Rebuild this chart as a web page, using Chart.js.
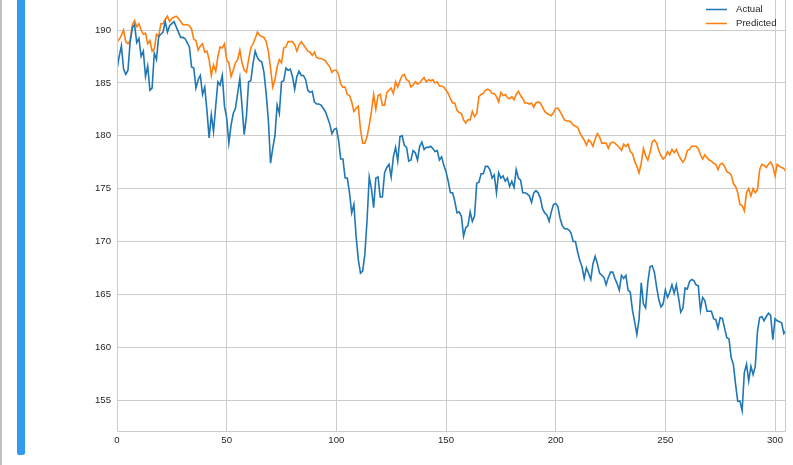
<!DOCTYPE html>
<html>
<head>
<meta charset="utf-8">
<script src="https://cdn.jsdelivr.net/npm/chart.js@4"></script>
<style>
  html, body { margin: 0; padding: 0; background: #fff; }
  body { width: 793px; height: 465px; position: relative; overflow: hidden; }
  #barraGris { position: absolute; left: 0; top: 0; width: 2px; height: 465px; background: #c0c0c0; }
  #barraAzul { position: absolute; left: 17px; top: 0; width: 8px; height: 455px; background: #329af0; border-radius: 0 0 2px 2px; }
  #lienzo { position: absolute; left: 0; top: 0; }
</style>
</head>
<body>
<div id="barraGris"></div>
<div id="barraAzul"></div>
<canvas id="lienzo" width="793" height="465"></canvas>
<script>
// valores (indice 0..305)
const actual = [
  186.3, 187.5, 188.5, 186.3, 185.8, 186.2, 188.9, 190.2, 190.5, 188.8,
  189.2, 187.5, 188.0, 185.6, 186.6, 184.3, 184.5, 187.8, 187.2, 189.4,
  189.6, 189.8, 190.8, 189.8, 190.4, 190.6, 190.8, 190.3, 189.8, 189.3,
  189.3, 189.2, 188.8, 188.4, 186.5, 186.4, 184.5, 185.3, 185.7, 183.9,
  184.6, 182.4, 179.8, 182.0, 180.4, 182.8, 185.1, 184.8, 185.7, 182.8,
  181.7, 179.3, 181.0, 182.1, 182.6, 184.0, 185.4, 182.8, 180.1, 181.8,
  185.1, 185.2, 186.8, 188.0, 187.4, 187.1, 187.0, 186.0, 184.0, 181.5,
  177.4, 178.8, 180.0, 182.9, 182.1, 185.1, 185.2, 186.4, 186.2, 186.3,
  185.6, 184.4, 185.6, 186.1, 185.7, 185.7, 185.3, 184.3, 184.1, 184.2,
  183.2, 183.0, 183.0, 182.9, 182.6, 182.3, 181.7, 181.1, 180.2, 180.6,
  180.7, 179.6, 177.8, 177.8, 176.0, 176.0, 174.6, 172.7, 173.5, 170.5,
  168.3, 167.0, 167.2, 168.8, 172.0, 176.1, 175.0, 173.2, 176.0, 176.1,
  174.2, 174.2, 176.5, 177.0, 177.3, 176.1, 178.0, 178.9, 177.6, 179.9,
  180.0, 179.1, 178.9, 177.6, 177.7, 178.6, 178.4, 177.7, 179.0, 179.4,
  178.7, 178.9, 178.9, 179.0, 178.8, 178.5, 178.6, 177.7, 178.0, 177.2,
  176.6, 175.7, 174.6, 174.6, 173.8, 172.7, 172.8, 172.4, 170.5, 171.3,
  171.5, 172.8, 171.9, 172.4, 175.5, 175.6, 176.4, 176.4, 177.1, 177.1,
  176.8, 176.0, 176.3, 174.6, 176.5, 176.0, 176.2, 175.7, 176.0, 175.2,
  175.7, 175.1, 176.8, 176.0, 175.8, 174.6, 174.6, 174.5, 174.3, 173.7,
  174.6, 174.8, 174.6, 174.1, 173.1, 172.7, 172.5, 171.9, 172.8, 173.5,
  173.6, 173.3, 172.2, 171.5, 171.2, 171.2, 171.1, 170.8, 170.0, 170.0,
  169.0, 168.2, 167.6, 166.5, 167.5, 167.0, 166.4, 167.9, 168.6, 167.9,
  167.0, 166.8, 166.6, 165.9, 166.6, 167.1, 167.1, 166.5, 166.0, 165.4,
  166.8, 166.5, 166.8, 165.4, 165.2, 163.5, 162.4, 161.2, 162.6, 166.1,
  164.1, 163.7, 166.1, 167.6, 167.7, 167.1, 165.7, 164.5, 163.8, 164.1,
  165.4, 164.7, 165.2, 165.9, 165.1, 165.9, 164.7, 163.3, 163.7, 165.6,
  165.5, 166.2, 166.4, 166.3, 165.9, 165.8, 163.5, 164.7, 164.4, 163.4,
  163.4, 163.4, 162.7, 162.6, 161.8, 162.8, 162.7, 161.8, 160.9, 160.8,
  159.0, 158.4, 156.5, 154.9, 154.9, 154.0, 157.6, 158.4, 156.8, 158.2,
  157.4, 158.2, 161.5, 162.8, 162.9, 162.5, 162.9, 163.2, 163.0, 160.7,
  162.7, 162.5, 162.4, 162.3, 161.3, 161.6
];

const predicted = [
  188.9, 189.1, 189.5, 190.0, 188.9, 188.7, 189.0, 190.5, 190.9, 190.3,
  190.6, 190.0, 189.6, 189.7, 188.7, 189.0, 188.0, 188.2, 189.6, 189.4,
  190.6, 190.6, 191.0, 191.3, 190.8, 191.1, 191.2, 191.3, 191.1, 190.8,
  190.5, 190.5, 190.5, 190.4, 190.1, 189.1, 189.0, 188.1, 188.5, 188.7,
  187.9, 188.0, 187.2, 185.7, 186.7, 186.1, 187.5, 188.4, 188.3, 188.7,
  187.2, 186.9, 185.6, 186.2, 186.9, 187.2, 188.1, 186.9, 186.2, 186.0,
  187.2, 188.3, 188.7, 189.2, 189.8, 189.5, 189.4, 189.3, 188.9, 188.0,
  186.4, 184.6, 185.3, 186.5, 187.2, 186.9, 188.3, 188.4, 188.9, 188.9,
  188.9, 188.6, 188.0, 188.6, 188.9, 188.6, 188.3, 188.0, 187.9, 187.6,
  187.9, 187.4, 187.3, 187.3, 187.2, 187.1, 186.8, 186.5, 186.0, 186.2,
  186.2, 185.8, 184.9, 184.6, 184.6, 183.9, 183.8, 183.2, 182.3, 182.6,
  182.8, 180.6, 179.3, 179.3, 179.9, 181.0, 182.3, 183.9, 182.5, 183.8,
  183.9, 182.9, 182.9, 184.1, 184.3, 184.5, 184.0, 185.1, 184.6, 185.2,
  185.7, 185.8, 185.3, 185.2, 184.6, 184.8, 185.1, 184.9, 185.0, 185.3,
  185.5, 185.1, 185.3, 185.2, 185.3, 185.0, 185.1, 184.7, 184.7, 184.6,
  184.3, 184.0, 183.5, 183.1, 183.1, 182.4, 182.2, 182.1, 181.5, 181.2,
  181.5, 181.5, 182.3, 181.8, 182.1, 183.7, 183.9, 184.0, 184.3, 184.4,
  184.3, 184.0, 184.0, 183.7, 183.2, 184.1, 183.8, 183.9, 183.6, 183.5,
  183.7, 183.4, 183.9, 184.2, 183.8, 183.5, 183.1, 183.1, 183.0, 183.1,
  182.7, 183.1, 183.2, 183.1, 182.7, 182.3, 182.1, 182.0, 181.9, 182.2,
  182.6, 182.6, 182.3, 181.9, 181.5, 181.4, 181.4, 181.3, 181.0, 180.9,
  180.8, 180.3, 179.9, 179.6, 179.1, 179.6, 179.4, 179.0, 179.7, 180.2,
  179.9, 179.3, 179.3, 179.3, 178.8, 179.3, 179.4, 179.3, 179.1, 178.9,
  178.6, 179.2, 179.0, 179.2, 178.5, 178.3, 177.6, 177.1, 176.5, 177.4,
  178.8, 178.1, 177.7, 178.4, 179.4, 179.6, 179.3, 178.6, 178.1, 177.8,
  178.0, 178.5, 178.2, 178.7, 178.4, 178.7, 178.2, 177.8, 177.5, 177.8,
  178.6, 178.7, 179.0, 179.0, 179.0, 178.8, 178.2, 177.8, 178.2, 177.9,
  177.7, 177.6, 177.4, 177.3, 176.8, 177.3, 177.4, 177.1, 176.6, 176.5,
  176.3, 175.5, 175.2, 174.6, 173.5, 173.4, 172.9, 174.6, 175.0, 174.3,
  175.0, 174.6, 174.9, 176.8, 177.3, 177.2, 177.0, 177.3, 177.5, 177.1,
  176.2, 177.3, 177.1, 177.0, 176.9, 176.6
];

const nombresSeries = ['Actual', 'Predicted'];
const coloresSeries = ['#1f77b4', '#ff7f0e'];

const rangoX = [0, 305];
const rangoY = [152.07, 192.84];
const pasoX = 50;
const pasoY = 5;

const colorGrilla = '#cccccc';
const colorTexto = '#262626';
const fuente = "'Liberation Sans', Arial, sans-serif";

const aPuntos = serie => serie.map((v, i) => ({ x: i, y: v }));

// bordes del area (izquierda, abajo, derecha) estilo seaborn whitegrid
const pluginBordes = {
    id: 'bordes',
    afterDatasetsDraw(chart) {
        const { ctx, chartArea: a } = chart;
        ctx.save();
        ctx.strokeStyle = colorGrilla;
        ctx.lineWidth = 1;
        ctx.beginPath();
        ctx.moveTo(a.left + 0.5, a.top);
        ctx.lineTo(a.left + 0.5, a.bottom + 0.5);
        ctx.lineTo(a.right - 0.5, a.bottom + 0.5);
        ctx.lineTo(a.right - 0.5, a.top);
        ctx.stroke();
        ctx.restore();
    }
};

// leyenda vertical arriba a la derecha
const pluginLeyenda = {
    id: 'leyendaDerecha',
    afterDraw(chart) {
        const { ctx } = chart;
        ctx.save();
        ctx.font = '9.6px ' + fuente;
        ctx.textBaseline = 'middle';
        chart.data.datasets.forEach((ds, i) => {
            const y = 9.5 + i * 14;
            ctx.strokeStyle = ds.borderColor;
            ctx.lineWidth = 1.5;
            ctx.beginPath();
            ctx.moveTo(706, y);
            ctx.lineTo(727, y);
            ctx.stroke();
            ctx.fillStyle = colorTexto;
            ctx.fillText(ds.label, 736, y);
        });
        ctx.restore();
    }
};

new Chart(document.getElementById('lienzo'), {
    type: 'line',
    data: {
        datasets: [actual, predicted].map((serie, i) => ({
            label: nombresSeries[i],
            data: aPuntos(serie),
            borderColor: coloresSeries[i],
            backgroundColor: coloresSeries[i],
            borderWidth: 1.6,
            pointRadius: 0,
            tension: 0,
            fill: false
        }))
    },
    options: {
        responsive: false,
        animation: false,
        devicePixelRatio: 1,
        layout: { padding: { left: 0, right: 7, top: 0, bottom: 0 } },
        plugins: {
            legend: { display: false },
            tooltip: { enabled: false }
        },
        scales: {
            x: {
                type: 'linear',
                min: rangoX[0],
                max: rangoX[1],
                afterFit: s => { s.height = 34; s.paddingLeft = 0; s.paddingRight = 0; },
                ticks: {
                    stepSize: pasoX,
                    includeBounds: false,
                    padding: 4,
                    color: colorTexto,
                    font: { family: fuente, size: 9.6 },
                    maxRotation: 0
                },
                grid: { color: colorGrilla, drawTicks: false, lineWidth: 1 },
                border: { display: false }
            },
            y: {
                min: rangoY[0],
                max: rangoY[1],
                afterFit: s => { s.width = 117; s.paddingTop = 0; s.paddingBottom = 0; },
                ticks: {
                    stepSize: pasoY,
                    includeBounds: false,
                    padding: 6,
                    color: colorTexto,
                    font: { family: fuente, size: 9.6 }
                },
                grid: { color: colorGrilla, drawTicks: false, lineWidth: 1 },
                border: { display: false }
            }
        }
    },
    plugins: [pluginBordes, pluginLeyenda]
});
</script>
</body>
</html>
